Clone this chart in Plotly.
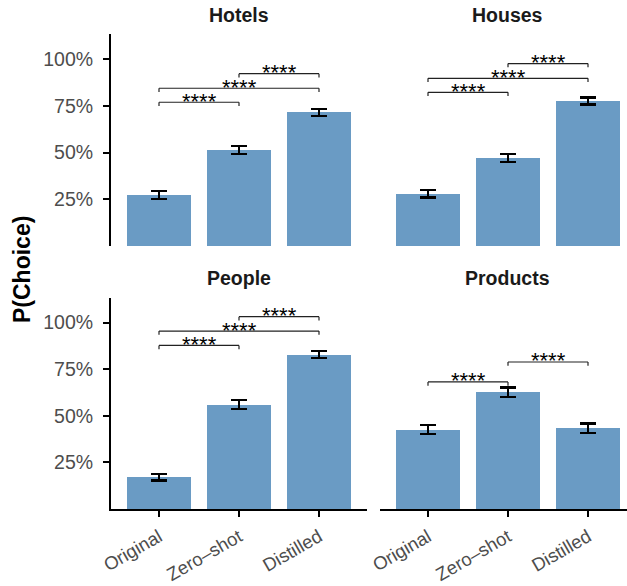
import plotly.graph_objects as go

# ---- data ----
categories = ["Original", "Zero–shot", "Distilled"]
panel_names = ["Hotels", "Houses", "People", "Products"]

hotels = [0.273, 0.514, 0.716]
hotels_err = [0.020, 0.022, 0.020]
houses = [0.279, 0.471, 0.777]
houses_err = [0.019, 0.022, 0.019]
people = [0.171, 0.562, 0.830]
people_err = [0.018, 0.024, 0.020]
products = [0.428, 0.627, 0.434]
products_err = [0.024, 0.025, 0.025]

# significance comparisons: (group a, group b, bracket height)
hotels_sig = [(0, 1, 0.770), (0, 2, 0.845), (1, 2, 0.923)]
houses_sig = [(0, 1, 0.823), (0, 2, 0.898), (1, 2, 0.977)]
people_sig = [(0, 1, 0.878), (0, 2, 0.955), (1, 2, 1.032)]
products_sig = [(0, 1, 0.682), (1, 2, 0.789)]
sig_label = "****"

y_tickvals = [0.25, 0.50, 0.75, 1.00]
y_ticktext = ["25%", "50%", "75%", "100%"]

values = [hotels, houses, people, products]
errors = [hotels_err, houses_err, people_err, products_err]
sigs = [hotels_sig, houses_sig, people_sig, products_sig]

# ---- layout geometry ----
W, H = 627, 586
BAR_COLOR = "#6A9BC4"
TICK_COLOR = "#4D4D4D"
FONT = "Liberation Sans, Arial, sans-serif"

def px(x):
    return x / W

def py(y):
    return 1 - y / H

x_domains = [[px(111), px(367)], [px(380), 1.0], [px(111), px(367)], [px(380), 1.0]]
y_domains = [[py(246), py(34.3)], [py(246), py(34.3)], [py(509), py(297.7)], [py(509), py(297.7)]]
x_ranges = [[-0.6, 2.6], [-0.6, 2.4875], [-0.6, 2.6], [-0.6, 2.4875]]
y_range = [0, 1.134]

fig = go.Figure()
shapes = []
annotations = []
tip = 0.02

for i in range(4):
    xa = "x" if i == 0 else f"x{i+1}"
    ya = "y" if i == 0 else f"y{i+1}"
    fig.add_trace(go.Bar(
        x=list(range(len(categories))), y=values[i],
        xaxis=xa, yaxis=ya, width=0.8,
        marker=dict(color=BAR_COLOR, line=dict(width=0)),
        error_y=dict(type="data", array=errors[i], color="black", thickness=2.2, width=8),
        showlegend=False,
    ))
    for (a, b, h) in sigs[i]:
        for seg in [(a, h, b, h), (a, h - tip, a, h), (b, h - tip, b, h)]:
            shapes.append(dict(type="line", xref=xa, yref=ya,
                               x0=seg[0], y0=seg[1], x1=seg[2], y1=seg[3],
                               line=dict(color="#222222", width=1.2)))
        annotations.append(dict(x=(a + b) / 2, y=h, xref=xa, yref=ya, text=sig_label,
                                showarrow=False, yanchor="middle", yshift=1,
                                font=dict(family=FONT, size=22, color="black")))
    # panel title
    xc = (x_domains[i][0] + (px(367) if i % 2 == 0 else px(636))) / 2
    annotations.append(dict(x=xc, y=py(15 if i < 2 else 278), xref="paper", yref="paper",
                            text=f"<b>{panel_names[i]}</b>", showarrow=False,
                            xanchor="center", yanchor="middle",
                            font=dict(family=FONT, size=19.5, color="#1A1A1A")))

annotations.append(dict(x=px(22), y=py(270), xref="paper", yref="paper",
                        text="<b>P(Choice)</b>", textangle=-90, showarrow=False,
                        xanchor="center", yanchor="middle",
                        font=dict(family=FONT, size=23, color="black")))

layout = dict(width=W, height=H, margin=dict(l=0, r=0, t=0, b=0, autoexpand=False),
              plot_bgcolor="white", paper_bgcolor="white", template="none",
              shapes=shapes, annotations=annotations, bargap=0)

for i in range(4):
    xk = "xaxis" if i == 0 else f"xaxis{i+1}"
    yk = "yaxis" if i == 0 else f"yaxis{i+1}"
    bottom = i >= 2
    left = i % 2 == 0
    layout[xk] = dict(domain=x_domains[i], range=x_ranges[i],
                      anchor="y" if i == 0 else f"y{i+1}",
                      tickmode="array", tickvals=list(range(len(categories))),
                      ticktext=categories if bottom else ["", "", ""],
                      showticklabels=bottom, ticks="outside" if bottom else "",
                      ticklen=6, tickwidth=2, tickcolor="black",
                      showline=bottom, linecolor="black", linewidth=2,
                      showgrid=False, zeroline=False, tickangle=-30, automargin=False,
                      tickfont=dict(family=FONT, size=18.5, color=TICK_COLOR),
                      ticklabelstandoff=2, fixedrange=True)
    layout[yk] = dict(domain=y_domains[i], range=y_range,
                      anchor="x" if i == 0 else f"x{i+1}",
                      tickmode="array", tickvals=y_tickvals, ticktext=y_ticktext,
                      showticklabels=left, ticks="outside" if left else "",
                      ticklen=6, tickwidth=2, tickcolor="black",
                      showline=left, linecolor="black", linewidth=2,
                      showgrid=False, zeroline=False, automargin=False,
                      tickfont=dict(family=FONT, size=19.5, color=TICK_COLOR),
                      ticklabelstandoff=6, fixedrange=True)

fig.update_layout(**layout)
fig.write_html("out.html", config={"displayModeBar": False},
               post_script="document.body.style.margin='0';document.body.style.overflow='hidden';")
